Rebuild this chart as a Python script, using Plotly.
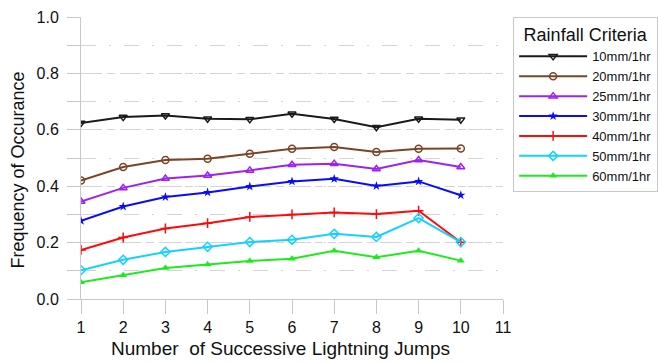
import plotly.graph_objects as go

jumps = [1, 2, 3, 4, 5, 6, 7, 8, 9, 10]

freq_10mm = [0.624, 0.645, 0.651, 0.639, 0.637, 0.657, 0.638, 0.609, 0.639, 0.636]
freq_20mm = [0.420, 0.468, 0.493, 0.497, 0.515, 0.533, 0.539, 0.521, 0.533, 0.534]
freq_25mm = [0.346, 0.394, 0.427, 0.438, 0.456, 0.476, 0.480, 0.461, 0.493, 0.468]
freq_30mm = [0.277, 0.328, 0.362, 0.378, 0.399, 0.417, 0.426, 0.401, 0.417, 0.368]
freq_40mm = [0.174, 0.218, 0.250, 0.269, 0.291, 0.300, 0.307, 0.301, 0.313, 0.201]
freq_50mm = [0.102, 0.139, 0.167, 0.185, 0.202, 0.210, 0.231, 0.220, 0.287, 0.202]
freq_60mm = [0.059, 0.084, 0.110, 0.122, 0.135, 0.143, 0.171, 0.148, 0.171, 0.136]

series = [
    ("10mm/1hr", freq_10mm, "#1a1a1a", "triangle-down-open"),
    ("20mm/1hr", freq_20mm, "#7a4426", "circle-open"),
    ("25mm/1hr", freq_25mm, "#a020f0", "triangle-up-open"),
    ("30mm/1hr", freq_30mm, "#0a0aff", "star"),
    ("40mm/1hr", freq_40mm, "#ff0a0a", "cross-thin"),
    ("50mm/1hr", freq_50mm, "#14d2ff", "diamond-open"),
    ("60mm/1hr", freq_60mm, "#1eea1e", "triangle-up"),
]

x_ticks = list(range(1, 12))
FONT = "Arial, Liberation Sans, sans-serif"
GRID = "#d4d4d4"
AXIS = "#c8c8c8"

fig = go.Figure()
for name, vals, color, sym in series:
    outlined = "open" in sym or "cross" in sym
    fig.add_trace(go.Scatter(
        x=jumps, y=vals, name=name, mode="lines+markers",
        line=dict(color=color, width=2),
        marker=dict(symbol=sym, size=7, color=color,
                    line=dict(color=color, width=1.5 if outlined else 0)),
    ))

# axis titles placed as annotations so they can sit off-centre
fig.add_annotation(text="Number  of Successive Lightning Jumps",
                   xref="paper", yref="paper", x=0.4716, y=-0.175,
                   xanchor="center", yanchor="middle", showarrow=False,
                   font=dict(size=19, family=FONT, color="#111111"))
fig.add_annotation(text="Frequency of Occurance", textangle=-90,
                   xref="paper", yref="paper", x=-0.15, y=0.458,
                   xanchor="center", yanchor="middle", showarrow=False,
                   font=dict(size=18, family=FONT, color="#111111"))

fig.update_layout(
    width=658, height=363,
    margin=dict(l=81, r=155, t=17, b=64, autoexpand=False),
    paper_bgcolor="white", plot_bgcolor="white",
    font=dict(family=FONT, color="#111111", size=16),
    showlegend=True,
    legend=dict(
        x=1.024, y=1.0, xanchor="left", yanchor="top",
        title=dict(text="Rainfall Criteria", side="top center",
                   font=dict(size=18, family=FONT)),
        font=dict(size=13, family=FONT),
        bordercolor=AXIS, borderwidth=1, bgcolor="white",
        itemwidth=68, tracegroupgap=0,
    ),
    xaxis=dict(
        range=[1, 11], tickvals=x_ticks, ticktext=[str(t) for t in x_ticks],
        showgrid=False, zeroline=False,
        showline=True, linecolor=AXIS, linewidth=1,
        ticks="outside", ticklen=14, tickcolor=AXIS,
        tickfont=dict(size=16),
    ),
    yaxis=dict(
        range=[0, 1.0], tickvals=[0, 0.2, 0.4, 0.6, 0.8, 1.0],
        ticktext=["0.0", "0.2", "0.4", "0.6", "0.8", "1.0"],
        showgrid=True, gridcolor=GRID, griddash="8px,5px", gridwidth=1,
        zeroline=False,
        showline=True, linecolor=AXIS, linewidth=1,
        ticks="outside", ticklen=13, tickcolor=AXIS,
        tickfont=dict(size=16), ticklabelstandoff=5,
        minor=dict(dtick=0.1, showgrid=True, gridcolor=GRID,
                   griddash="15px,13px,2px,13px", ticks="outside", ticklen=13,
                   tickcolor=AXIS),
    ),
)

fig.write_html("out.html")
